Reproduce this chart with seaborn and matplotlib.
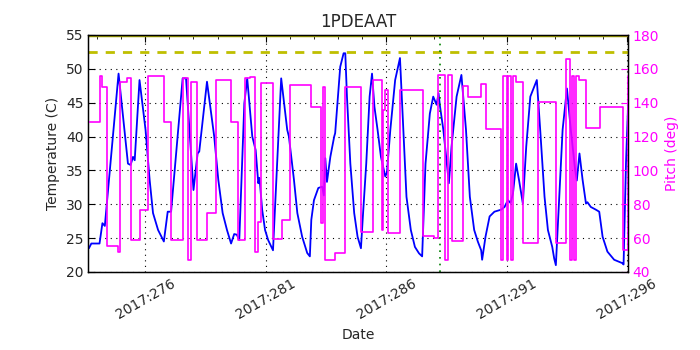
import matplotlib
matplotlib.use("Agg")
import matplotlib.pyplot as plt
import seaborn as sns
import pandas as pd
from matplotlib.ticker import MultipleLocator, FixedLocator, FuncFormatter

# ---- data (day of year 2017) ----
temp_time = [273.66, 273.76, 274.10, 274.22, 274.32, 274.89, 275.28, 275.39, 275.49, 275.56,
             275.76, 276.01, 276.18, 276.32, 276.53, 276.77, 276.93, 277.07, 277.55, 277.69,
             278.00, 278.17, 278.24, 278.56, 278.86, 279.03, 279.21, 279.39, 279.56, 279.69,
             279.80, 279.90, 280.11, 280.23, 280.44, 280.58, 280.69, 280.74, 280.85, 280.97,
             281.10, 281.30, 281.64, 281.89, 281.96, 282.17, 282.31, 282.51, 282.72, 282.83,
             282.89, 283.00, 283.18, 283.34, 283.41, 283.47, 283.54, 283.68, 283.84, 283.88,
             284.09, 284.23, 284.30, 284.37, 284.51, 284.67, 284.81, 284.95, 285.03, 285.17,
             285.31, 285.41, 285.51, 285.64, 285.78, 285.96, 286.03, 286.17, 286.37, 286.57,
             286.71, 286.84, 287.02, 287.19, 287.36, 287.49, 287.63, 287.81, 287.95, 288.09,
             288.17, 288.23, 288.37, 288.60, 288.71, 288.92, 289.12, 289.31, 289.47, 289.65,
             289.80, 289.94, 289.98, 290.12, 290.29, 290.49, 290.77, 290.91, 291.05, 291.16,
             291.26, 291.39, 291.51, 291.67, 291.81, 291.98, 292.25, 292.39, 292.57, 292.71,
             292.89, 292.97, 293.04, 293.18, 293.32, 293.50, 293.66, 293.84, 293.91, 294.02,
             294.15, 294.29, 294.35, 294.49, 294.70, 294.84, 294.98, 295.18, 295.46, 295.80,
             295.85, 295.95, 296.04]
temp_vals = [23.5, 24.2, 24.2, 27.2, 26.8, 49.3, 36.0, 35.8, 37.0, 36.5,
             48.35, 41.0, 33.6, 28.7, 26.2, 24.5, 28.9, 28.9, 48.6, 48.6,
             32.1, 37.5, 37.8, 48.1, 40.0, 33.6, 28.7, 26.2, 24.2, 25.6,
             25.5, 24.7, 44.9, 48.6, 40.0, 38.0, 33.1, 33.9, 29.2, 26.2,
             24.7, 23.2, 48.6, 41.0, 40.0, 33.6, 28.7, 25.2, 22.8, 22.3,
             27.7, 30.6, 32.4, 32.6, 31.3, 36.8, 33.3, 37.0, 40.0, 40.5,
             50.3, 52.3, 52.3, 45.9, 36.0, 28.7, 25.2, 23.5, 28.2, 36.0,
             45.9, 49.3, 44.4, 41.0, 37.0, 34.1, 34.7, 41.0, 48.35, 51.6,
             41.0, 31.1, 26.2, 23.7, 22.75, 22.3, 36.0, 43.4, 45.9, 44.7,
             46.4, 44.5, 41.0, 33.1, 38.5, 45.9, 49.1, 41.0, 31.1, 26.2,
             24.5, 23.2, 21.8, 25.2, 28.2, 28.9, 29.2, 29.6, 30.6, 30.2,
             31.6, 36.0, 33.6, 30.1, 38.5, 45.9, 48.35, 41.0, 31.1, 26.2,
             23.7, 22.0, 21.0, 31.1, 41.0, 47.1, 41.0, 35.1, 33.5, 37.5,
             33.6, 30.1, 30.3, 29.6, 29.2, 28.9, 25.2, 23.0, 21.8, 21.3,
             21.1, 36.0, 44.9]

pitch_time = [273.66, 274.13, 274.22, 274.41, 274.87, 274.96, 275.22, 275.39, 275.76, 276.11,
              276.78, 277.07, 277.55, 277.78, 277.90, 278.13, 278.56, 278.93, 279.56, 279.83,
              280.15, 280.33, 280.56, 280.69, 280.81, 281.30, 281.66, 281.99, 282.87, 283.28,
              283.38, 283.47, 283.88, 284.30, 284.95, 285.44, 285.83, 285.88, 285.96, 286.07,
              286.58, 287.51, 287.99, 288.14, 288.43, 288.56, 288.75, 289.17, 289.40, 289.94,
              290.15, 290.77, 290.84, 291.01, 291.05, 291.19, 291.26, 291.39, 291.67, 292.29,
              293.03, 293.45, 293.61, 293.70, 293.78, 293.86, 293.99, 294.28, 294.88, 295.81,
              296.04]
pitch_vals = [128.8, 155.8, 149.1, 55.4, 52.0, 152.4, 154.4, 58.9, 76.6, 155.8,
              128.8, 58.9, 154.4, 47.1, 152.4, 58.9, 74.7, 153.4, 128.8, 58.9,
              154.4, 155.4, 52.0, 69.7, 151.8, 59.3, 70.7, 150.5, 137.6, 68.8,
              149.5, 47.1, 51.0, 149.1, 63.8, 153.4, 64.8, 135.7, 147.5, 62.9,
              147.5, 61.5, 60.0, 156.4, 47.1, 156.4, 58.5, 149.9, 143.6, 150.9,
              124.3, 47.1, 155.8, 47.1, 155.8, 47.1, 155.8, 152.4, 57.3, 140.6,
              56.9, 165.6, 47.1, 155.8, 47.1, 155.8, 153.2, 124.9, 137.6, 53.0,
              155.8]

date_ticks = [276, 281, 286, 291, 296]
planning_limit = 52.5
top_limit = 55.0
marker_day = 288.23

temp_df = pd.DataFrame({"time": temp_time, "temp": temp_vals})
pitch_df = pd.DataFrame({"time": pitch_time, "pitch": pitch_vals})

sns.set_style("white")
plt.rcParams["font.family"] = ["DejaVu Sans"]

fig = plt.figure(figsize=(7, 3.5), dpi=100)
ax = fig.add_axes([0.126, 0.223, 0.771, 0.677])

sns.lineplot(data=temp_df, x="time", y="temp", ax=ax, color="b", linewidth=1.3,
             estimator=None, sort=False)
ax.axhline(planning_limit, color=(0.75, 0.75, 0), linestyle=(0, (3.3, 2.9)), linewidth=2.0)
ax.axhline(top_limit, color=(0.65, 0.65, 0), linewidth=2.5)
ax.axvline(marker_day, color="g", linestyle=(0, (1, 3)), linewidth=1.2)

ax.set_xlim(273.63, 296.03)
ax.set_ylim(20, 55)
ax.yaxis.set_major_locator(MultipleLocator(5))
ax.xaxis.set_major_locator(FixedLocator(date_ticks))
ax.xaxis.set_minor_locator(MultipleLocator(1))
ax.xaxis.set_major_formatter(FuncFormatter(lambda v, p: "2017:%03d" % int(round(v))))
ax.grid(True, which="major", color="k", linestyle=(0, (1, 4)), linewidth=0.8)
ax.tick_params(axis="both", which="both", direction="in", labelsize=10, color="k")
ax.tick_params(axis="x", which="major", length=5, top=True)
ax.tick_params(axis="x", which="minor", length=3, top=True)
ax.tick_params(axis="y", which="major", length=5)
for lbl in ax.get_xticklabels():
    lbl.set_rotation(30)
    lbl.set_ha("center")
ax.set_xlabel("Date", fontsize=10)
ax.set_ylabel("Temperature (C)", fontsize=10)
ax.set_title("1PDEAAT", fontsize=12)
for s in ax.spines.values():
    s.set_color("k")
    s.set_linewidth(1.0)

ax2 = ax.twinx()
sns.lineplot(data=pitch_df, x="time", y="pitch", ax=ax2, color="magenta", linewidth=1.2,
             estimator=None, sort=False, drawstyle="steps-post")
ax2.set_ylim(40, 180)
ax2.yaxis.set_major_locator(MultipleLocator(20))
ax2.set_xlim(273.63, 296.03)
ax2.tick_params(axis="y", direction="in", labelsize=10, colors="magenta", length=5)
ax2.set_ylabel("Pitch (deg)", color="magenta", fontsize=10)
ax2.grid(False)
for s in ax2.spines.values():
    s.set_color("k")

fig.savefig("out.png", dpi=100)
